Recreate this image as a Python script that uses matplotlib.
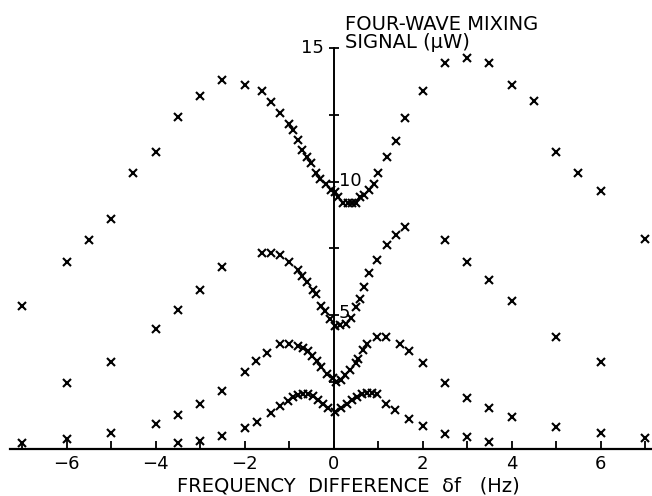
import matplotlib.pyplot as plt
import numpy as np

# curve A (top)
xa = [-7, -6, -5.5, -5, -4.5, -4, -3.5, -3, -2.5, -2, -1.6, -1.4, -1.2, -1.0, -0.9,
      -0.8, -0.7, -0.6, -0.5, -0.4, -0.3, -0.17, -0.05, 0.03, 0.11, 0.22, 0.32, 0.42,
      0.5, 0.6, 0.68, 0.8, 0.9, 1.0, 1.2, 1.4, 1.6, 2.0, 2.5, 3.0, 3.5, 4.0, 4.5, 5.0,
      5.5, 6.0, 7.0]
ya = [5.34, 6.99, 7.8, 8.6, 10.3, 11.1, 12.4, 13.2, 13.8, 13.6, 13.4, 12.96, 12.55, 12.15, 11.93,
      11.56, 11.16, 10.93, 10.68, 10.31, 10.1, 9.89, 9.69, 9.6, 9.41, 9.2, 9.2, 9.2,
      9.2, 9.41, 9.5, 9.69, 9.9, 10.31, 10.9, 11.53, 12.38, 13.4, 14.43, 14.6, 14.43, 13.6, 13.0, 11.1,
      10.3, 9.66, 7.84]

# curve B
xb = [-6, -5, -4, -3.5, -3, -2.5, -1.6, -1.4, -1.2, -1.0, -0.8, -0.7, -0.6, -0.47, -0.39,
      -0.29, -0.2, -0.08, 0.03, 0.15, 0.28, 0.4, 0.51, 0.6, 0.69, 0.8, 0.98, 1.2, 1.4, 1.6,
      2.5, 3.0, 3.5, 4.0, 5.0, 6.0]
yb = [2.47, 3.26, 4.5, 5.21, 5.96, 6.8, 7.33, 7.33, 7.24, 6.99, 6.68, 6.45, 6.24, 5.93, 5.8,
      5.36, 5.16, 4.86, 4.6, 4.62, 4.69, 4.9, 5.3, 5.62, 6.06, 6.58, 7.06, 7.61, 7.99, 8.3,
      7.82, 6.99, 6.33, 5.53, 4.19, 3.26]

# curve C
xc = [-7, -6, -5, -4, -3.5, -3, -2.5, -2, -1.75, -1.5, -1.2, -1.0, -0.8, -0.68, -0.57,
      -0.48, -0.38, -0.27, -0.14, -0.02, 0.06, 0.16, 0.26, 0.37, 0.51, 0.56, 0.67, 0.76,
      0.98, 1.18, 1.49, 1.7, 2.0, 2.5, 3.0, 3.5, 4.0, 5.0, 6.0, 7.0]
yc = [0.24, 0.36, 0.59, 0.93, 1.27, 1.7, 2.18, 2.88, 3.3, 3.59, 3.93, 3.94, 3.84, 3.77, 3.65,
      3.46, 3.29, 3.08, 2.82, 2.64, 2.51, 2.57, 2.76, 2.95, 3.2, 3.38, 3.69, 3.94,
      4.19, 4.19, 3.94, 3.65, 3.22, 2.47, 1.91, 1.52, 1.21, 0.81, 0.61, 0.4]

# curve D (bottom)
xd = [-3.5, -3, -2.5, -2, -1.73, -1.4, -1.2, -1.02, -0.9, -0.79, -0.68, -0.57, -0.45,
      -0.34, -0.23, -0.12, 0.03, 0.16, 0.3, 0.41, 0.52, 0.63, 0.75, 0.86, 0.97, 1.18,
      1.38, 1.7, 2.0, 2.5, 3.0, 3.5]
yd = [0.24, 0.31, 0.49, 0.77, 1.02, 1.35, 1.62, 1.8, 1.95, 2.01, 2.05, 2.05, 1.98,
      1.85, 1.7, 1.52, 1.39, 1.52, 1.68, 1.83, 1.95, 2.05, 2.1, 2.1, 2.05, 1.7,
      1.46, 1.11, 0.86, 0.56, 0.44, 0.27]

xticks = np.arange(-7, 8)
xlabels = ['' if t % 2 else ('−%d' % -t if t < 0 else '%d' % t) for t in xticks]

plt.rcParams['font.family'] = 'DejaVu Sans'
fig = plt.figure(figsize=(6.52, 4.96), dpi=100)
ax = fig.add_axes([0, 47 / 496, 1, 449 / 496])
ax.set_xlim(-333.5 / 44.5, 318.5 / 44.5)
ax.set_ylim(0, 449 / 26.75)

for xs, ys in [(xa, ya), (xb, yb), (xc, yc), (xd, yd)]:
    ax.plot(xs, ys, ls='none', marker='x', ms=5.5, mew=1.5, color='black', clip_on=False)

for s in ['top', 'right']:
    ax.spines[s].set_visible(False)
ax.spines['left'].set_position(('data', 0))
ax.spines['left'].set_bounds(0, 15)
ax.spines['bottom'].set_bounds(-7.27, 7.2)
ax.spines['left'].set_linewidth(1.4)
ax.spines['bottom'].set_linewidth(1.6)

ax.set_xticks(xticks)
ax.set_xticklabels(xlabels)
ax.tick_params(axis='x', direction='in', length=6, width=1.3, pad=4, labelsize=13)
ax.set_yticks([2.5, 5, 7.5, 10, 12.5, 15])
ax.set_yticklabels([])
ax.tick_params(axis='y', direction='inout', length=7, width=1.3)

ax.text(-0.22, 15, '15', ha='right', va='center', fontsize=13)
ax.text(0.12, 10, '10', ha='left', va='center', fontsize=13)
ax.text(0.12, 5.1, '5', ha='left', va='center', fontsize=13)
ax.text(0.25, 14.85, 'FOUR-WAVE MIXING\nSIGNAL (μW)', ha='left', va='bottom',
        fontsize=14, linespacing=0.9)

fig.text(348 / 652, 4 / 496, 'FREQUENCY  DIFFERENCE  δf   (Hz)', ha='center', va='baseline',
         fontsize=14)

fig.savefig('out.png', dpi=100)
